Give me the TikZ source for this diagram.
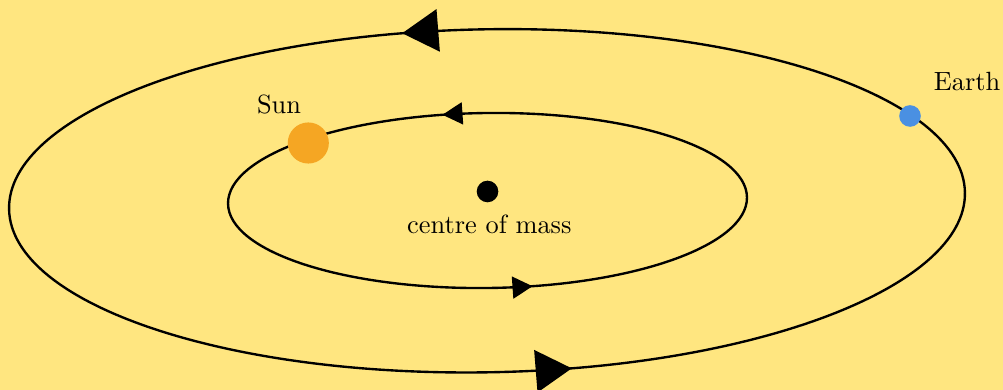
\documentclass[tikz,border=0pt]{standalone}
\usepackage{xcolor}
\usepackage{tikz}
\usetikzlibrary{arrows.meta, positioning, decorations.markings}
\definecolor{bgyellow}{RGB}{255, 230, 128}
\definecolor{sunorange}{RGB}{245, 166, 35}
\definecolor{earthblue}{RGB}{74, 144, 226}

\begin{document}
\begin{tikzpicture}[
			x=0.3794pt, y=0.3794pt,
			orbit/.style={line width=0.9pt},
			outerorbit/.style={orbit, postaction={decorate}, decoration={markings,
				mark=at position 0.288 with {\arrow{Triangle[length=13.7pt, width=16pt]}},
				mark=at position 0.788 with {\arrow{Triangle[length=13.7pt, width=16pt]}}}},
			innerorbit/.style={orbit, postaction={decorate}, decoration={markings,
				mark=at position 0.288 with {\arrow{Triangle[length=7.6pt, width=8.3pt]}},
				mark=at position 0.788 with {\arrow{Triangle[length=7.6pt, width=8.3pt]}}}},
			body/.style={circle, inner sep=0pt},
			bodyname/.style={font=\normalsize}
		]
		\fill[bgyellow] (0,0) rectangle (1003,390);
		\useasboundingbox (0,0) rectangle (1003,390);
		
		% orbits
		\draw[outerorbit, rotate around={1:(487,189.2)}] (487,189.2) ellipse [x radius=478, y radius=171.5];
		\draw[innerorbit, rotate around={0.7:(487.5,189.5)}] (487.5,189.5) ellipse [x radius=259.5, y radius=87.5];
		
		% bodies
		\node[body, fill=black, minimum size=8.2pt] (com) at (487.5,198.5) {};
		\node[bodyname, below=1pt of com, xshift=0.7pt] (comlabel) {centre of mass};
		\node[body, fill=sunorange, minimum size=15.6pt] (sun) at (308.3,247) {};
		\node[bodyname] (sunlabel) at (279,285) {Sun};
		\node[body, fill=earthblue, minimum size=8.2pt] (earth) at (910,274) {};
		\node[bodyname, above right=2.9pt and 2.5pt of earth] (earthlabel) {Earth};
		\end{tikzpicture}
\end{document}
